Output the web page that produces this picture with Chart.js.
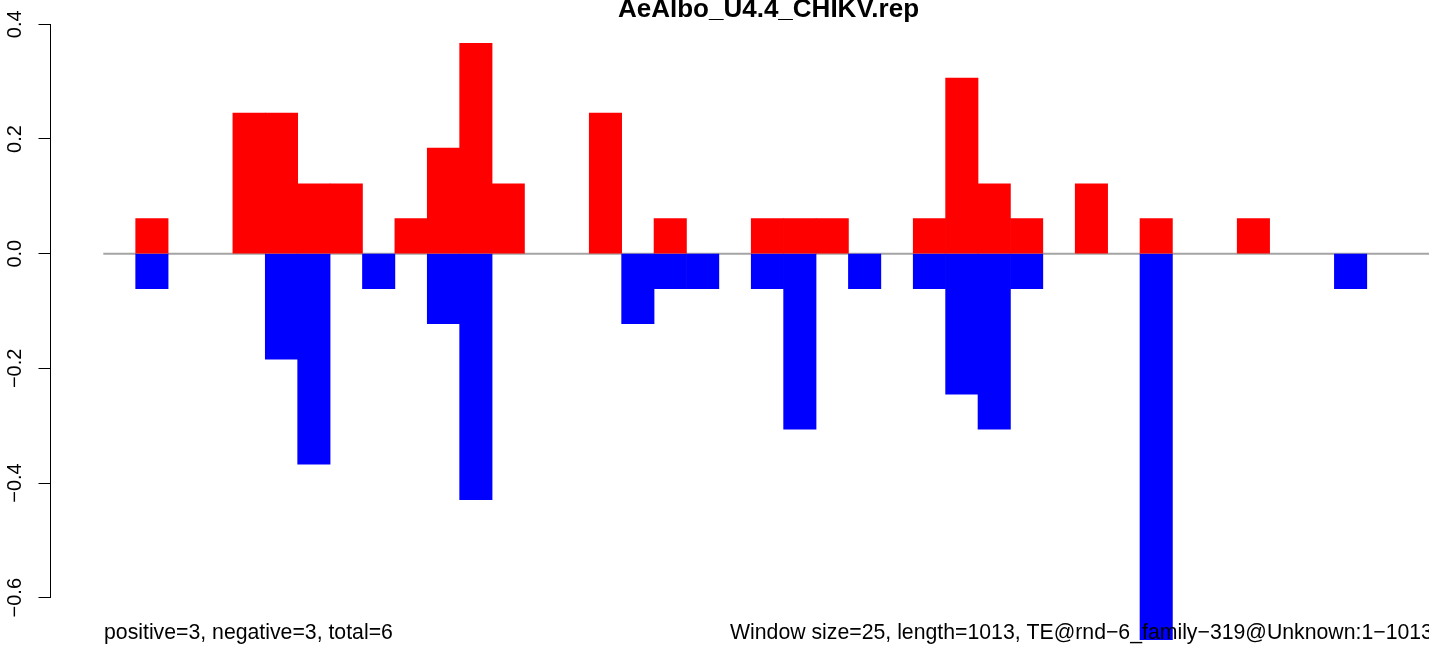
<!DOCTYPE html>
<html>
<head>
<meta charset="utf-8">
<script src="https://cdn.jsdelivr.net/npm/chart.js@4.4.0/dist/chart.umd.min.js"></script>
<style>
  html, body { margin: 0; padding: 0; background: #fff; overflow: hidden; }
  #chart { display: block; }
</style>
</head>
<body>
<canvas id="chart" width="1429" height="647"></canvas>
<script>
const chartTitle = 'AeAlbo_U4.4_CHIKV.rep';
const leftNote = 'positive=3, negative=3, total=6';
const rightNote = 'Window size=25, length=1013, TE@rnd\u22126_family\u2212319@Unknown:1\u22121013';

// one value per 25 bp window, 41 windows
const positive = [
  0, 0.061, 0, 0, 0.245, 0.245, 0.122, 0.122, 0, 0.061,
  0.184, 0.367, 0.122, 0, 0, 0.245, 0, 0.061, 0, 0,
  0.061, 0.061, 0.061, 0, 0, 0.061, 0.306, 0.122, 0.061, 0,
  0.122, 0, 0.061, 0, 0, 0.061, 0, 0, 0, 0, 0
];
const negative = [
  0, -0.061, 0, 0, 0, -0.184, -0.367, 0, -0.061, 0,
  -0.122, -0.429, 0, 0, 0, 0, -0.122, -0.061, -0.061, 0,
  -0.061, -0.306, 0, -0.061, 0, -0.061, -0.245, -0.306, -0.061, 0,
  0, 0, -0.673, 0, 0, 0, 0, 0, -0.061, 0, 0
];
const yTicks = [0.4, 0.2, 0.0, -0.2, -0.4, -0.6];

const font = "'Liberation Sans', Arial, Helvetica, sans-serif";
Chart.defaults.font.family = font;

// empty windows get no bar at all (a zero bar would still paint a sliver)
const toPoints = arr => arr.map((v, i) => ({ x: i + 0.5, y: v === 0 ? null : v }));

// title and bottom notes, drawn over the bars like the R device does
const notes = {
    id: 'notes',
    afterDraw(chart) {
        const ctx = chart.ctx;
        ctx.save();
        ctx.fillStyle = '#000';
        ctx.textBaseline = 'alphabetic';
        ctx.font = 'bold 26px ' + font;
        ctx.textAlign = 'center';
        ctx.fillText(chartTitle, 768.5, 17);
        ctx.font = '21.25px ' + font;
        ctx.textAlign = 'left';
        ctx.fillText(leftNote, 104, 639);
        ctx.fillText(rightNote, 730, 639);
        ctx.restore();
    }
};

new Chart(document.getElementById('chart'), {
    type: 'bar',
    data: {
        datasets: [
            {
                data: toPoints(positive),
                backgroundColor: '#ff0000',
                grouped: false, barPercentage: 1, categoryPercentage: 1,
                borderWidth: 0, clip: false
            },
            {
                data: toPoints(negative),
                backgroundColor: '#0000ff',
                grouped: false, barPercentage: 1, categoryPercentage: 1,
                borderWidth: 0, clip: false
            },
            {
                // zero line under the bars
                type: 'line',
                data: [{ x: 0, y: 0 }, { x: positive.length, y: 0 }],
                borderColor: '#a4a4a4', borderWidth: 2,
                pointRadius: 0, clip: false
            }
        ]
    },
    options: {
        responsive: false,
        animation: false,
        devicePixelRatio: 1,
        layout: { padding: { top: 24.3, bottom: 49.3, left: 0, right: 0 } },
        plugins: {
            legend: { display: false },
            title: { display: false },
            tooltip: { enabled: false }
        },
        scales: {
            x: {
                type: 'linear', display: false, offset: false,
                min: -1.63, max: 40.92,
                grid: { offset: false },
                ticks: { includeBounds: false }
            },
            y: {
                min: -0.6, max: 0.4,
                afterBuildTicks: s => { s.ticks = yTicks.map(v => ({ value: v })); },
                afterFit: s => { s.width = 50.5; },
                ticks: {
                    minRotation: 90, maxRotation: 90, crossAlign: 'center',
                    padding: 3, color: '#000', font: { size: 20 },
                    callback: v => v.toFixed(1).replace('-', '\u2212')
                },
                grid: { drawOnChartArea: false, drawTicks: true, tickLength: 12, tickColor: '#000', tickWidth: 1 },
                border: { display: true, color: '#000', width: 1 }
            }
        }
    },
    plugins: [notes]
});
</script>
</body>
</html>
